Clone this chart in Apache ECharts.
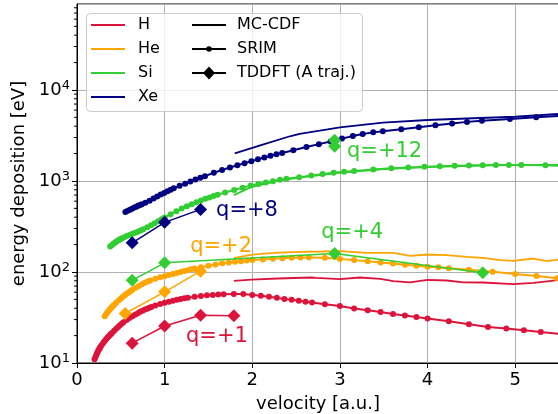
<!DOCTYPE html>
<html>
<head>
<meta charset="utf-8">
<script src="https://cdn.jsdelivr.net/npm/echarts@6/dist/echarts.min.js"></script>
<style>html,body{margin:0;padding:0;background:#fff}#c{width:558px;height:414px}</style>
</head>
<body>
<div id="c"></div>
<script>
// ---------- data ----------
const colors = {H:'#DC143C', He:'#FFA500', Si:'#32CD32', Xe:'#000080'};

// SRIM
const vH_srim = [0.200,0.210,0.219,0.228,0.237,0.245,0.253,0.261,0.268,0.283,0.300,0.316,0.332,0.346,0.361,0.374,0.387,0.400,0.424,0.447,0.469,0.490,0.510,0.529,0.566,0.600,0.632,0.663,0.693,0.721,0.748,0.775,0.800,0.825,0.849,0.894,0.949,1.000,1.049,1.095,1.140,1.183,1.225,1.265,1.342,1.414,1.483,1.549,1.612,1.673,1.789,1.897,2.000,2.098,2.191,2.280,2.366,2.449,2.530,2.608,2.683,2.828,3.000,3.162,3.317,3.464,3.606,3.742,3.873,4.000,4.243,4.472,4.690,4.899,5.099,5.292,5.657];
const eH_srim = [11.0,11.6,12.2,12.8,13.3,13.8,14.2,14.7,15.1,15.8,16.7,17.4,18.2,18.9,19.5,20.2,20.8,21.4,22.6,23.8,24.9,26.0,27.0,28.0,29.7,31.3,32.7,34.0,35.3,36.5,37.6,38.6,39.5,40.4,41.2,42.8,44.5,45.9,47.2,48.4,49.5,50.5,51.4,52.2,53.5,54.6,55.4,56.0,56.5,56.9,57.2,57.2,56.0,54.8,53.4,52.0,50.6,49.4,48.2,47.1,46.1,44.3,42.3,39.6,38.0,36.4,34.6,33.2,32.0,30.8,28.8,26.7,24.9,23.9,22.9,21.9,20.2];

const vHe_srim = [0.316,0.332,0.346,0.361,0.374,0.387,0.400,0.412,0.424,0.447,0.474,0.500,0.524,0.548,0.570,0.592,0.612,0.632,0.671,0.707,0.742,0.775,0.806,0.837,0.894,0.949,1.000,1.049,1.095,1.140,1.183,1.225,1.265,1.304,1.342,1.414,1.500,1.581,1.658,1.732,1.803,1.871,1.936,2.000,2.121,2.236,2.345,2.449,2.550,2.646,2.828,3.000,3.162,3.317,3.464,3.606,3.742,3.873,4.000,4.123,4.243,4.472,4.743,5.000,5.244,5.477,5.701];
const eHe_srim = [32.7,34.3,35.8,37.3,38.7,40.0,41.3,42.5,43.7,45.9,48.6,51.2,53.5,55.8,57.9,60.0,61.8,63.6,67.0,70.3,73.3,76.0,78.4,80.7,84.5,87.5,90.0,92.5,95.0,97.5,100,102.5,104.7,107,109,113,117,121,124.5,127,129.5,131.5,133.5,135,137.5,140,141.8,143,144,144.5,143,139,135,131.5,127.5,124,120,117,114.5,112.5,110,106,100.5,95,90.6,85.5,82];

const vSi_srim = [0.378,0.396,0.414,0.431,0.447,0.463,0.478,0.493,0.507,0.535,0.567,0.598,0.627,0.655,0.681,0.707,0.732,0.756,0.802,0.845,0.886,0.926,0.964,1.000,1.069,1.134,1.195,1.254,1.309,1.363,1.414,1.464,1.512,1.558,1.604,1.690,1.793,1.890,1.982,2.070,2.155,2.236,2.315,2.390,2.535,2.673,2.803,2.928,3.047,3.162,3.380,3.586,3.780,3.964,4.140,4.309,4.472,4.629,4.780,4.928,5.071,5.345,5.669];
const eSi_srim = [190,197,204,210,215,220,225,229,233,240,248,255,262,268,274,281,288,295,310,326,343,361,379,398,432,464,497,527,555,583,610,637,660,683,705,747,797,845,890,925,960,995,1030,1060,1100,1145,1190,1230,1260,1290,1340,1377,1410,1433,1452,1468,1480,1488,1495,1500,1500,1485,1460];

const vXe_srim = [0.552,0.579,0.605,0.629,0.653,0.676,0.698,0.720,0.740,0.780,0.828,0.873,0.915,0.956,0.995,1.033,1.069,1.104,1.171,1.234,1.294,1.352,1.407,1.460,1.561,1.656,1.745,1.830,1.912,1.990,2.065,2.138,2.208,2.276,2.342,2.468,2.618,2.760,2.894,3.024,3.148,3.260,3.380,3.490,3.700,3.900,4.090,4.280,4.450,4.620,4.940,5.240,5.520];
const eXe_srim = [455,470,483,496,510,522,533,545,556,575,605,640,675,708,738,770,800,830,885,935,985,1035,1085,1130,1230,1320,1405,1490,1570,1650,1730,1810,1890,1960,2030,2180,2360,2540,2720,2920,3120,3290,3420,3520,3710,3890,4100,4290,4460,4590,4790,5000,5190];

// MC-CDF
const vH_mc = [1.79,1.99,2.29,2.67,2.73,3.00,3.23,3.46,3.61,3.80,4.00,4.22,4.41,4.63,4.98,5.21,5.49];
const eH_mc = [79.8,82.6,84.8,87,86,83.4,87,84,79.3,77,82,80.6,77,76.6,73.4,76,81.3];
const vHe_mc = [1.79,2.00,2.30,2.54,2.80,3.00,3.30,3.61,3.80,4.00,4.22,4.45,4.63,4.83,4.98,5.21,5.36,5.49];
const eHe_mc = [142,155,163,166.5,168,169.4,162,162,150.4,155.6,153,146.6,143,135,132.5,140.6,131.5,137];
const vSi_mc = [1.79,1.98,2.30,2.60,3.00,3.50,4.00,4.50,5.00,5.49];
const eSi_mc = [700,850,1010,1110,1230,1350,1420,1470,1500,1500];
const vXe_mc = [1.80,2.10,2.44,2.54,2.86,3.00,3.49,4.00,4.52,5.00,5.49];
const eXe_mc = [2010,2483,3119,3300,3699,3890,4370,4677,4890,5080,5445];

// TDDFT (A traj.)
const vH_td = [0.63,1.00,1.41,1.79];   const eH_td = [16.5,25.5,33.5,33];
const vHe_td = [0.55,1.00,1.41];       const eHe_td = [35,60.5,102];
const vSi4_td = [0.63,1.00,2.94,4.63]; const eSi4_td = [81,126,160,98];
const vSi12_td = [2.94,2.94];          const eSi12_td = [2800,2400];
const vXe_td = [0.63,1.00,1.41];       const eXe_td = [209,351,487];

// annotations
const annoText = ['q=+1','q=+2','q=+4','q=+8','q=+12'];
const annoX = [1.597,1.644,3.14,1.94,3.51];
const annoY = [19.6,188,270,470,2090];
const annoColor = [colors.H, colors.He, colors.Si, colors.Xe, colors.Si];

// axis ticks
const yMinorTicks = [20,30,40,50,60,70,80,90,200,300,400,500,600,700,800,900,2000,3000,4000,5000,6000,7000,8000,9000,20000,30000,40000,50000,60000,70000,80000];

// ---------- build ----------
const F = 'DejaVu Sans';
const pairs = (xs, ys) => xs.map((x, i) => [x, ys[i]]);
const mc = (name, xs, ys, c) => ({name, type:'line', data:pairs(xs,ys), symbol:'none', lineStyle:{color:c, width:1.8}, itemStyle:{color:c}, z:3, silent:true});
const srim = (name, xs, ys, c) => ({name, type:'line', data:pairs(xs,ys), symbol:'circle', symbolSize:6, showAllSymbol:true, lineStyle:{color:c, width:2}, itemStyle:{color:c}, z:3, silent:true});
const td = (name, xs, ys, c) => ({name, type:'line', data:pairs(xs,ys), symbol:'diamond', symbolSize:13, showAllSymbol:true, lineStyle:{color:c, width:1.5}, itemStyle:{color:c}, z:4, silent:true});

const series = [
  mc('H MC', vH_mc, eH_mc, colors.H),
  srim('H SRIM', vH_srim, eH_srim, colors.H),
  td('H TDDFT', vH_td, eH_td, colors.H),
  mc('He MC', vHe_mc, eHe_mc, colors.He),
  srim('He SRIM', vHe_srim, eHe_srim, colors.He),
  td('He TDDFT', vHe_td, eHe_td, colors.He),
  mc('Si MC', vSi_mc, eSi_mc, colors.Si),
  srim('Si SRIM', vSi_srim, eSi_srim, colors.Si),
  td('Si TDDFT q4', vSi4_td, eSi4_td, colors.Si),
  td('Si TDDFT q12', vSi12_td, eSi12_td, colors.Si),
  mc('Xe MC', vXe_mc, eXe_mc, colors.Xe),
  srim('Xe SRIM', vXe_srim, eXe_srim, colors.Xe),
  td('Xe TDDFT', vXe_td, eXe_td, colors.Xe),
  {
    name:'annotations', type:'scatter', symbolSize:0, silent:true, z:6,
    itemStyle:{opacity:1},
    data: annoText.map((t,i)=>({value:[annoX[i], annoY[i]], label:{show:true, formatter:t, color:annoColor[i], opacity:1}})),
    label:{show:true, position:'inside', fontFamily:F, fontSize:21, opacity:1}
  },
  {
    name:'minorTicks', type:'custom', silent:true, clip:false, z:5,
    data: yMinorTicks.map(v => [0, v]),
    renderItem: (params, api) => {
      const p = api.coord([api.value(0), api.value(1)]);
      return {type:'line', shape:{x1:p[0]-3, y1:p[1], x2:p[0], y2:p[1]}, style:{stroke:'#000', lineWidth:1}};
    }
  }
];

// legend drawn as graphic
const LX1 = 91, LX2 = 192, LW = 34, rows = [25, 49, 73, 97];
const leg = [];
leg.push({type:'rect', shape:{x:86.5, y:13.5, width:276, height:98, r:4}, style:{fill:'rgba(255,255,255,0.8)', stroke:'#cccccc', lineWidth:1}, z:10});
['H','He','Si','Xe'].forEach((k,i)=>{
  leg.push({type:'line', shape:{x1:LX1, y1:rows[i], x2:LX1+LW, y2:rows[i]}, style:{stroke:colors[k], lineWidth:2}, z:11});
  leg.push({type:'text', x:138, y:rows[i], style:{text:k, font:'16px "DejaVu Sans"', fill:'#000', textVerticalAlign:'middle'}, z:11});
});
const legNames = ['MC-CDF','SRIM','TDDFT (A traj.)'];
legNames.forEach((k,i)=>{
  leg.push({type:'line', shape:{x1:LX2, y1:rows[i], x2:LX2+LW, y2:rows[i]}, style:{stroke:'#000', lineWidth:2}, z:11});
  leg.push({type:'text', x:237, y:rows[i], style:{text:k, font:'16px "DejaVu Sans"', fill:'#000', textVerticalAlign:'middle'}, z:11});
});
leg.push({type:'circle', shape:{cx:LX2+LW/2, cy:rows[1], r:2.8}, style:{fill:'#000'}, z:12});
leg.push({type:'polygon', shape:{points:[[LX2+LW/2, rows[2]-6.5],[LX2+LW/2+6, rows[2]],[LX2+LW/2, rows[2]+6.5],[LX2+LW/2-6, rows[2]]]}, style:{fill:'#000'}, z:12});

const chart = echarts.init(document.getElementById('c'), null, {renderer:'canvas'});
chart.setOption({
  animation:false,
  backgroundColor:'#fff',
  textStyle:{fontFamily:F},
  grid:{left:77, top:4, width:482, height:359, show:true, borderColor:'#000', borderWidth:1, backgroundColor:'transparent', containLabel:false, outerBoundsMode:'none'},
  xAxis:{
    type:'value', min:0, max:5.5, interval:1,
    name:'velocity [a.u.]', nameLocation:'middle', nameGap:32,
    nameTextStyle:{fontFamily:F, fontSize:18, color:'#000'},
    axisLine:{show:true, onZero:false, lineStyle:{color:'#000', width:1}},
    axisTick:{show:true, length:5, lineStyle:{color:'#000', width:1}},
    axisLabel:{fontFamily:F, fontSize:18, color:'#000', margin:8, showMaxLabel:false},
    splitLine:{show:true, lineStyle:{color:'#b0b0b0', width:1}}
  },
  yAxis:{
    type:'log', logBase:10, min:10, max:88000,
    name:'energy deposition [eV]', nameLocation:'middle', nameGap:41,
    nameTextStyle:{fontFamily:F, fontSize:18, color:'#000'},
    axisLine:{show:true, lineStyle:{color:'#000', width:1}},
    axisTick:{show:true, length:5, lineStyle:{color:'#000', width:1}},
    axisLabel:{
      fontFamily:F, color:'#000', margin:7, showMaxLabel:false,
      formatter:(v)=>{ const e = Math.round(Math.log10(v)); return '{b|10}{s|' + e + '}'; },
      rich:{b:{fontFamily:F, fontSize:18, color:'#000'}, s:{fontFamily:F, fontSize:13, color:'#000', padding:[0,0,9,0]}}
    },
    splitLine:{show:true, lineStyle:{color:'#b0b0b0', width:1}}
  },
  graphic: leg,
  series: series
});
</script>
</body>
</html>
